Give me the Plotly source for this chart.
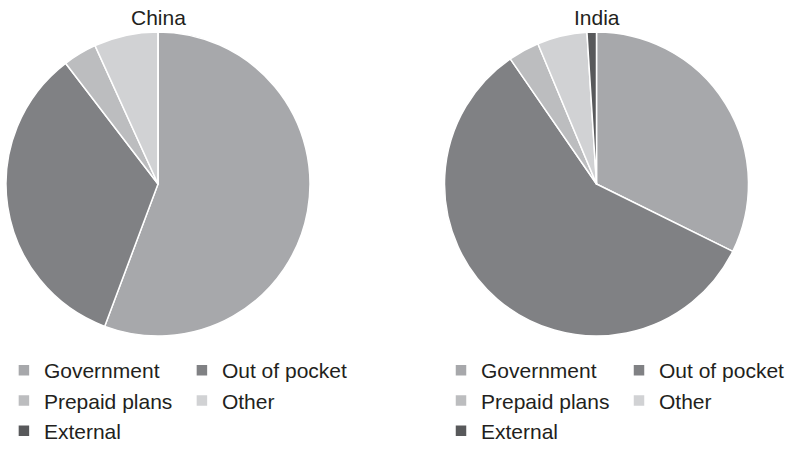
import plotly.graph_objects as go

categories = ["Government", "Out of pocket", "Prepaid plans", "Other", "External"]
china_values = [55.7, 33.9, 3.6, 6.8, 0.0]
india_values = [32.3, 58.1, 3.3, 5.3, 1.0]
colors = ["#a7a8ab", "#808184", "#bcbdbf", "#d1d2d4", "#58595b"]
titles = ["China", "India"]

W, H = 788, 451
ML, MR = 4, 0
GW = W - ML - MR

def xd(px0, px1):
    return [(px0 - ML) / GW, (px1 - ML) / GW]

ydom = [1 - 336 / H, 1 - 32 / H]

fig = go.Figure()
fig.add_trace(go.Pie(
    labels=categories, values=china_values, sort=False, direction="clockwise",
    rotation=0, marker=dict(colors=colors, line=dict(color="white", width=1.5)),
    textinfo="none", hoverinfo="label+percent", domain=dict(x=xd(6, 310), y=ydom),
    legend="legend", legendgroup="china", name="China"))
fig.add_trace(go.Pie(
    labels=categories, values=india_values, sort=False, direction="clockwise",
    rotation=0, marker=dict(colors=colors, line=dict(color="white", width=1.5)),
    textinfo="none", hoverinfo="label+percent", domain=dict(x=xd(444.5, 748.5), y=ydom),
    legend="legend2", legendgroup="india", name="India"))

font = dict(family="Liberation Sans, Arial, sans-serif", size=21, color="#231f20")
leg_common = dict(orientation="h", entrywidth=133, entrywidthmode="pixels",
                  yanchor="top", y=1 - 350 / H, font=font, bgcolor="rgba(0,0,0,0)",
                  borderwidth=0, traceorder="normal")

fig.update_layout(
    width=W, height=H, margin=dict(l=ML, r=MR, t=0, b=0, autoexpand=False),
    paper_bgcolor="white", plot_bgcolor="white", font=font,
    legend=dict(x=-0.0001, xanchor="left", **leg_common),
    legend2=dict(x=(797 - ML) / GW, xanchor="right", **leg_common),
    annotations=[
        dict(text=titles[0], x=(158 - ML) / GW, y=1 - 17.5 / H, xref="paper", yref="paper",
             showarrow=False, font=font, xanchor="center", yanchor="middle"),
        dict(text=titles[1], x=(596.5 - ML) / GW, y=1 - 17.5 / H, xref="paper", yref="paper",
             showarrow=False, font=font, xanchor="center", yanchor="middle"),
    ],
)

fig.write_html("out.html", config={"displayModeBar": False},
               post_script="document.body.style.margin='0px';")
